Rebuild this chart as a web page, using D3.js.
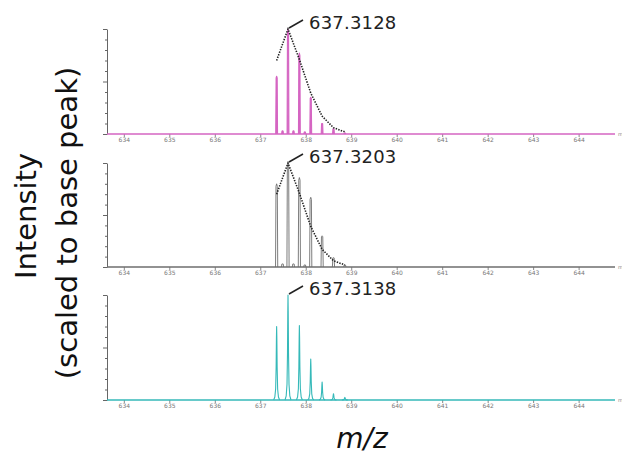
<!DOCTYPE html>
<html>
<head>
<meta charset="utf-8">
<script src="https://cdn.jsdelivr.net/npm/d3@7"></script>
<style>
  body { margin: 0; background: #fff; }
  svg { display: block; font-family: "DejaVu Sans", Verdana, sans-serif; }
</style>
</head>
<body>
<div id="chart"></div>
<script>
// isotope envelope, charge 4
const isotopeMz = [637.36, 637.61, 637.86, 638.11, 638.36, 638.61, 638.86];
const theoretical = [0.70, 1.0, 0.71, 0.39, 0.17, 0.06, 0.02];
const topIntensity = [0.55, 1.0, 0.77, 0.35, 0.10, 0.05, 0.01];
const middleIntensity = [0.80, 1.0, 0.86, 0.67, 0.30, 0.09, 0.02];
const bottomIntensity = [0.70, 1.0, 0.71, 0.39, 0.17, 0.06, 0.025];
const minorMz = [637.49, 637.73, 637.98];
const topMinor = [0.03, 0.03, 0.02];
const middleMinor = [0.03, 0.03, 0.02];
const bottomMinor = [0, 0, 0];
const peakLabels = ['637.3128', '637.3203', '637.3138'];
const xTicks = [634, 635, 636, 637, 638, 639, 640, 641, 642, 643, 644];
const yTicks = [0, 0.1, 0.2, 0.3, 0.4, 0.5, 0.6, 0.7, 0.8, 0.9, 1.0];

const width = 622, height = 455;
const svg = d3.select('#chart').append('svg')
    .attr('width', width)
    .attr('height', height);

const x = d3.scaleLinear().domain([633.63, 644.8]).range([107, 615]);

const panels = [
    { top: 29, base: 134, main: topIntensity, minor: topMinor, color: '#d565c2', style: 'stick', envelope: true, label: peakLabels[0] },
    { top: 163, base: 267, main: middleIntensity, minor: middleMinor, color: '#6e6e6e', style: 'outline', envelope: true, label: peakLabels[1] },
    { top: 295, base: 400, main: bottomIntensity, minor: bottomMinor, color: '#35b9b9', style: 'profile', envelope: false, label: peakLabels[2] }
];

// fixed peak outline: offsets (in half widths) and relative height
const shapeOffsets = [-3, -1.8, -1, -0.5, -0.2, 0, 0.2, 0.5, 1, 1.8, 3];
const shapeHeights = [0, 0.04, 0.15, 0.45, 0.85, 1, 0.85, 0.45, 0.15, 0.04, 0];
const stickOffsets = [-1, -0.6, 0, 0.6, 1];
const stickHeights = [0, 0.97, 1, 0.97, 0];

function peakPoints(mz, h, hw, style) {
    const offs = style === 'profile' ? shapeOffsets : stickOffsets;
    const hts = style === 'profile' ? shapeHeights : stickHeights;
    return offs.map((o, i) => [mz + o * hw, h * hts[i]]);
}

panels.forEach(p => {
    const y = d3.scaleLinear().domain([0, 1]).range([p.base, p.top]);
    const g = svg.append('g');

    // x axis
    const xAxis = g.append('g')
        .attr('transform', `translate(0,${p.base})`)
        .call(d3.axisBottom(x).tickValues(xTicks).tickSize(3).tickSizeOuter(0).tickFormat(d3.format('d')));
    xAxis.select('.domain').remove();
    xAxis.selectAll('line').attr('stroke', '#888');
    xAxis.selectAll('text').attr('fill', '#777').attr('font-size', 6).attr('dy', '0.3em')
        .attr('font-family', '"DejaVu Sans", sans-serif');

    // y axis
    const yAxis = g.append('g')
        .attr('transform', `translate(${x.range()[0]},0)`)
        .call(d3.axisLeft(y).tickValues(yTicks).tickSize(2).tickSizeOuter(0).tickFormat(''));
    yAxis.select('.domain').attr('stroke', '#666');
    yAxis.selectAll('.tick line').attr('stroke', '#666')
        .attr('x2', d => (Math.abs(d - 0.5) < 1e-6 || d === 1 || d === 0) ? -4 : -2);

    const line = d3.line().x(d => x(d[0])).y(d => y(d[1]));

    // baseline of the spectrum
    g.append('line')
        .attr('x1', x.range()[0]).attr('x2', x.range()[1])
        .attr('y1', p.base).attr('y2', p.base)
        .attr('stroke', p.color).attr('stroke-width', 1.3);

    const hw = p.style === 'profile' ? 0.022 : (p.style === 'outline' ? 0.024 : 0.02);
    const peaks = isotopeMz.map((m, i) => ({ mz: m, h: p.main[i] }))
        .concat(minorMz.map((m, i) => ({ mz: m, h: p.minor[i] })))
        .filter(d => d.h > 0);

    g.selectAll('path.peak').data(peaks).enter().append('path')
        .attr('class', 'peak')
        .attr('d', d => line(peakPoints(d.mz, d.h, hw, p.style)))
        .attr('fill', p.style === 'stick' ? p.color : 'none')
        .attr('stroke', p.color)
        .attr('stroke-width', p.style === 'outline' ? 0.9 : 1.1)
        .attr('stroke-linejoin', 'round');

    // theoretical isotope pattern
    if (p.envelope) {
        g.append('path')
            .attr('d', line(isotopeMz.map((m, i) => [m, theoretical[i]])))
            .attr('fill', 'none')
            .attr('stroke', '#222')
            .attr('stroke-width', 1.6)
            .attr('stroke-dasharray', '1.4,1.3');
    }

    // base peak label
    const px = x(isotopeMz[1]), py = y(1);
    g.append('line')
        .attr('x1', px + 1).attr('y1', py - 1)
        .attr('x2', px + 15).attr('y2', py - 9)
        .attr('stroke', '#222').attr('stroke-width', 1.6);
    g.append('text')
        .attr('x', px + 21).attr('y', py)
        .attr('font-size', 18)
        .attr('letter-spacing', 0.2)
        .attr('fill', '#222')
        .text(p.label);

    // clipped axis unit at the right end
    g.append('text')
        .attr('x', 618).attr('y', p.base + 2)
        .attr('font-size', 5).attr('fill', '#888')
        .text('m');
});

// axis titles
svg.append('text')
    .attr('transform', 'translate(36,216) rotate(-90)')
    .attr('text-anchor', 'middle')
    .attr('font-size', 29)
    .attr('fill', '#111')
    .text('Intensity');
svg.append('text')
    .attr('transform', 'translate(77,223) rotate(-90)')
    .attr('text-anchor', 'middle')
    .attr('font-size', 29)
    .attr('fill', '#111')
    .text('(scaled to base peak)');
svg.append('text')
    .attr('x', 362).attr('y', 448)
    .attr('text-anchor', 'middle')
    .attr('font-size', 28)
    .attr('font-style', 'italic')
    .attr('fill', '#111')
    .text('m/z');
</script>
</body>
</html>
